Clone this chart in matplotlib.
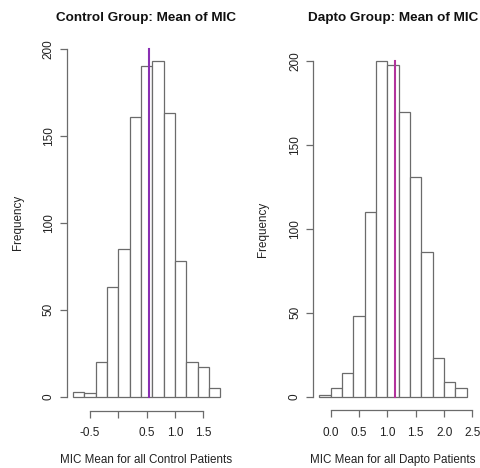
import numpy as np
import matplotlib.pyplot as plt

plt.rcParams['font.family'] = ['Liberation Sans', 'DejaVu Sans']

# bootstrap histograms of the mean MIC, bins of width 0.2
control_edges = [-0.8, -0.6, -0.4, -0.2, 0.0, 0.2, 0.4, 0.6, 0.8, 1.0, 1.2, 1.4, 1.6, 1.8]
control_counts = [3, 2, 20, 63, 85, 161, 190, 193, 163, 78, 20, 17, 5]
control_mean = 0.545

dapto_edges = [-0.2, 0.0, 0.2, 0.4, 0.6, 0.8, 1.0, 1.2, 1.4, 1.6, 1.8, 2.0, 2.2, 2.4]
dapto_counts = [1, 5, 14, 48, 110, 200, 198, 170, 131, 86, 23, 9, 5]
dapto_mean = 1.128

control_ticks = [-0.5, 0.0, 0.5, 1.0, 1.5]
control_ticklabels = ['-0.5', '', '0.5', '1.0', '1.5']
dapto_ticks = [0.0, 0.5, 1.0, 1.5, 2.0, 2.5]
dapto_ticklabels = ['0.0', '0.5', '1.0', '1.5', '2.0', '2.5']
y_ticks = [0, 50, 100, 150, 200]

gray = '#6b6b6b'
txt = '#222222'
W, H = 480, 468

fig = plt.figure(figsize=(4.8, 4.68), dpi=100)
ax1 = fig.add_axes([0.1398, 0.1226, 0.3317, 0.8022])
ax2 = fig.add_axes([0.6531, 0.1237, 0.3317, 0.7739])


def r_hist(ax, edges, counts, mean, ticks, ticklabels, line_col):
    edges = np.array(edges)
    ax.bar(edges[:-1], counts, width=np.diff(edges), align='edge',
           facecolor='white', edgecolor=gray, linewidth=0.9)
    ax.plot([mean, mean], [0, 200], color=line_col, linewidth=1.5)
    span = edges[-1] - edges[0]
    ax.set_xlim(edges[0] - 0.04 * span, edges[-1] + 0.04 * span)
    ax.set_ylim(-8, 208)
    for s in ['top', 'right']:
        ax.spines[s].set_visible(False)
    for s in ['left', 'bottom']:
        ax.spines[s].set_color(gray)
        ax.spines[s].set_linewidth(0.9)
    ax.spines['left'].set_bounds(0, 200)
    ax.spines['bottom'].set_bounds(ticks[0], ticks[-1])
    ax.set_xticks(ticks)
    ax.set_xticklabels(ticklabels)
    ax.set_yticks(y_ticks)
    ax.set_yticklabels([str(v) for v in y_ticks], rotation=90, va='center')
    ax.tick_params(axis='both', length=5, width=0.9, color=gray,
                   labelsize=8.5, labelcolor=txt)
    ax.tick_params(axis='x', pad=7)
    ax.tick_params(axis='y', pad=4)
    ax.patch.set_alpha(0)


r_hist(ax1, control_edges, control_counts, control_mean, control_ticks,
       control_ticklabels, '#8a2fb3')
r_hist(ax2, dapto_edges, dapto_counts, dapto_mean, dapto_ticks,
       dapto_ticklabels, '#b3339c')

# titles, axis labels placed in pixel positions
fig.text(146.5 / W, 1 - 18 / H, 'Control Group: Mean of MIC', ha='center',
         va='center', fontsize=9.7, fontweight='bold', color='#111111')
fig.text(393.5 / W, 1 - 18 / H, 'Dapto Group: Mean of MIC', ha='center',
         va='center', fontsize=9.7, fontweight='bold', color='#111111')
fig.text(146.5 / W, 1 - 460 / H, 'MIC Mean for all Control Patients',
         ha='center', va='center', fontsize=8.4, color=txt)
fig.text(393 / W, 1 - 460 / H, 'MIC Mean for all Dapto Patients',
         ha='center', va='center', fontsize=8.4, color=txt)
fig.text(18 / W, 1 - 222 / H, 'Frequency', rotation=90, ha='center',
         va='center', fontsize=8.4, color=txt)
fig.text(263 / W, 1 - 229 / H, 'Frequency', rotation=90, ha='center',
         va='center', fontsize=8.4, color=txt)

fig.savefig('out.png', dpi=100)
